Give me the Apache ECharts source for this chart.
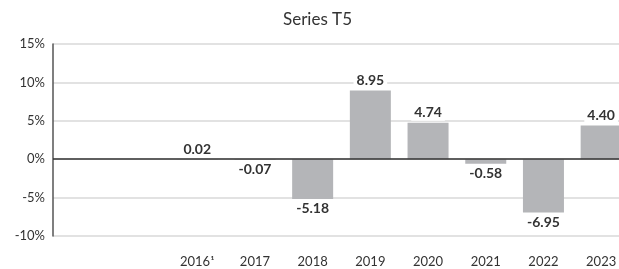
<!DOCTYPE html>
<html>
<head>
<meta charset="utf-8">
<script src="https://cdn.jsdelivr.net/npm/echarts@6/dist/echarts.min.js"></script>
<style>
html, body { margin: 0; padding: 0; background: #fff; }
#main { width: 619px; height: 269px; }
</style>
</head>
<body>
<div id="main"></div>
<script>
// categories (two leading empty slots keep the left gap of the original)
var years = ['', '', '2016¹', '2017', '2018', '2019', '2020', '2021', '2022', '2023'];
var values = ['-', '-', 0.02, -0.07, -5.18, 8.95, 4.74, -0.58, -6.95, 4.40];
var yTicks = [-10, 15, 5]; // min, max, interval

var chart = echarts.init(document.getElementById('main'));
var font = 'Lato, "Open Sans", sans-serif';

var option = {
    animation: false,
    title: {
        text: 'Series T5',
        left: 278,
        top: 6,
        textStyle: { fontFamily: font, fontWeight: 'normal', fontSize: 17, color: '#333' }
    },
    // plot runs a little past the right edge of the canvas, like the original
    grid: { left: 53, right: -11, top: 44, bottom: 33, outerBoundsMode: 'none' },
    xAxis: {
        type: 'category',
        data: years,
        axisLine: { show: false },
        axisTick: { show: false },
        axisLabel: { margin: 19, fontFamily: font, fontSize: 13, color: '#333', interval: 0 }
    },
    yAxis: {
        type: 'value',
        min: yTicks[0],
        max: yTicks[1],
        interval: yTicks[2],
        axisLine: { show: true, lineStyle: { color: '#555', width: 1.5 } },
        axisTick: { show: false },
        splitLine: { lineStyle: { color: '#d9d9d9', width: 1.5 } },
        axisLabel: { formatter: '{value}%', margin: 8, fontFamily: font, fontSize: 13, color: '#333' }
    },
    series: [{
        type: 'bar',
        barWidth: 41,
        itemStyle: { color: '#b4b5b8' },
        label: {
            show: true,
            position: 'top',
            distance: 2,
            fontFamily: font,
            fontWeight: 'bold',
            fontSize: 14,
            color: '#333',
            backgroundColor: '#fff',
            padding: [1, 3],
            formatter: function (p) { return p.value.toFixed(2); }
        },
        markLine: {
            silent: true,
            symbol: 'none',
            label: { show: false },
            lineStyle: { color: '#333', type: 'solid', width: 1.5 },
            data: [{ yAxis: 0 }]
        }
    }]
};

// negative bars get their label below
option.series[0].data = values.map(function (v) {
    if (v === '-' || v >= 0) return v;
    return { value: v, label: { position: 'bottom' } };
});

chart.setOption(option);
</script>
</body>
</html>
